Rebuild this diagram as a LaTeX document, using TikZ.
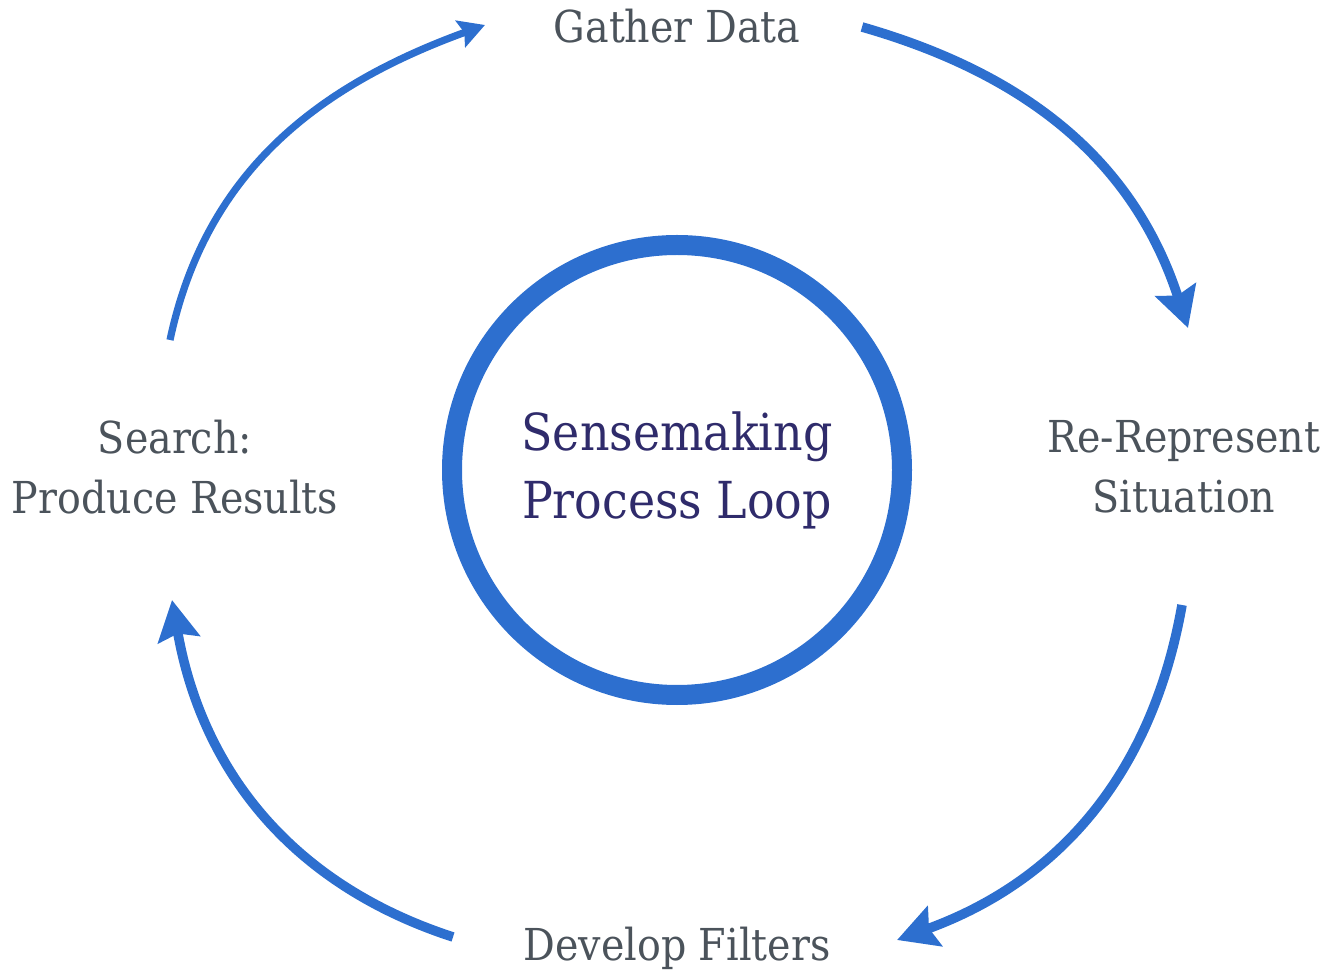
\documentclass[tikz,border=0pt]{standalone}
\usepackage{fontspec}
\setmainfont{DejaVu Serif Condensed}
\usepackage{tikz}
\usetikzlibrary{arrows.meta}
\usetikzlibrary{positioning}
\usepackage{xcolor}
\definecolor{loopblue}{RGB}{45,111,207}
\definecolor{labelgray}{RGB}{75,83,91}
\definecolor{loopink}{RGB}{47,43,107}

\begin{document}
\begin{tikzpicture}[x=0.5pt,y=0.5pt,
	stagelabel/.style={text=labelgray,inner sep=0pt,align=center,font=\fontsize{22}{30}\selectfont},
	flow/.style={draw=loopblue,line width=4.8pt,-{Stealth[length=20pt,width=21pt,inset=3pt]}},
	thinflow/.style={draw=loopblue,line width=3.6pt,-{Stealth[length=13pt,width=14pt,inset=2pt]}}]
		\useasboundingbox (0,0) rectangle (1328,970);
		% centre loop
		\node[circle,draw=loopblue,line width=10pt,minimum size=225pt,text=loopink,align=center,
			font=\fontsize{25.5}{34}\selectfont] (loop) at (677,500) {Sensemaking\\Process Loop};
		% the four stages
		\node[stagelabel,anchor=base] (gather) at (677,927) {Gather Data};
		\node[stagelabel] (rerep) at (1184,503) {Re-Represent\\Situation};
		\node[stagelabel,anchor=base] (develop) at (677,10) {Develop Filters};
		\node[stagelabel] (search) at (175,503) {Search:\\Produce Results};
		% arrow ends
		\coordinate (tl0) at (170,630);
		\coordinate (tl1) at (485,945);
		\coordinate (tr0) at (862,943);
		\coordinate (tr1) at (1188,642);
		\coordinate (br0) at (1182,365);
		\coordinate (br1) at (897,30);
		\coordinate (bl0) at (453,33);
		\coordinate (bl1) at (172,370);
		\draw[thinflow] (tl0) to[out=78,in=200] (tl1);
		\draw[flow] (tr0) to[out=-16,in=108] (tr1);
		\draw[flow] (br0) to[out=-100,in=20] (br1);
		\draw[flow] (bl0) to[out=162,in=-80] (bl1);
\end{tikzpicture}
\end{document}
